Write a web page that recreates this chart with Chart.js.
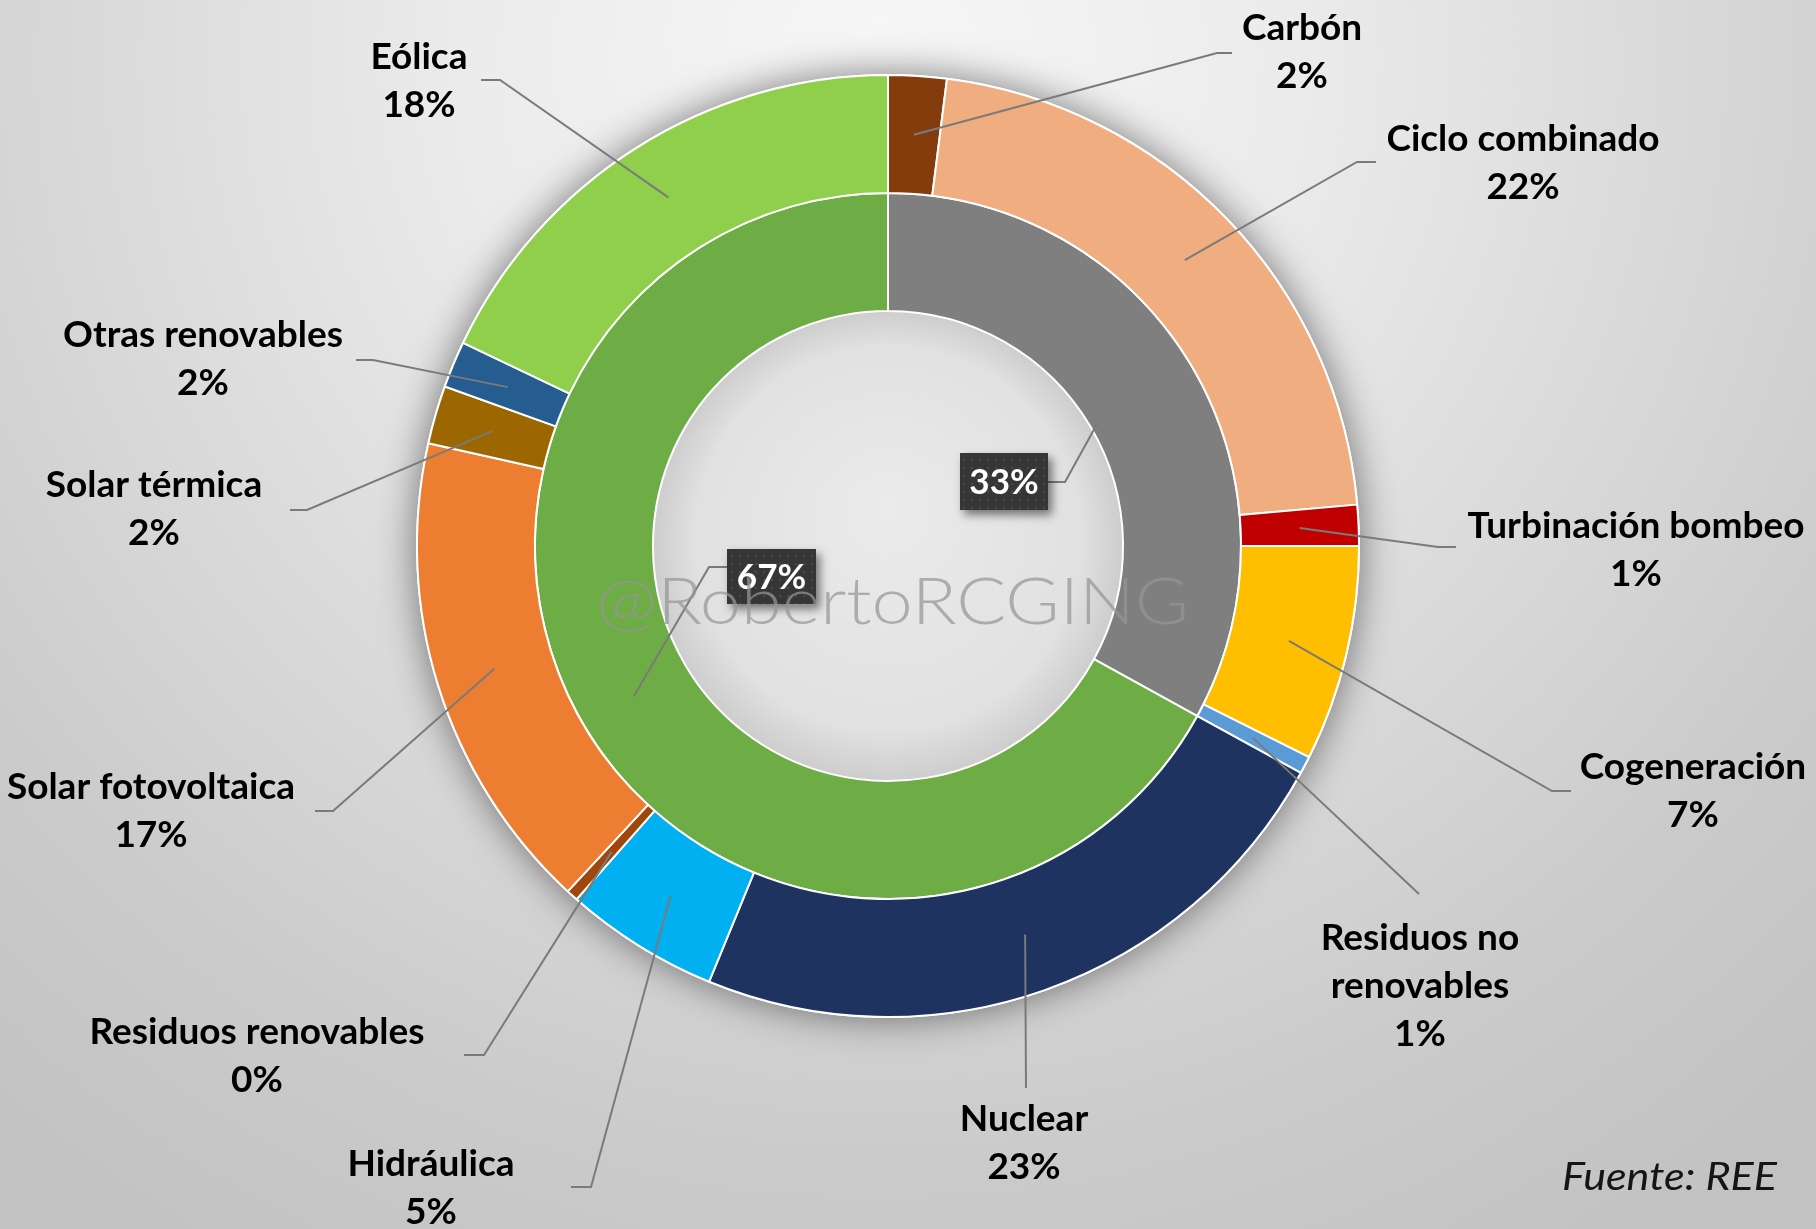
<!DOCTYPE html>
<html><head><meta charset="utf-8">
<script src="https://cdn.jsdelivr.net/npm/chart.js@4.4.1/dist/chart.umd.min.js"></script>
<style>
html,body{margin:0;padding:0;width:1816px;height:1229px;overflow:hidden;}
body{background: radial-gradient(circle at 880px 60px, #f7f7f7 0px, #ebebeb 420px, #d9d9d9 800px, #cbcbcb 1100px, #c2c2c2 1400px);}
canvas{display:block;}
</style></head><body>
<canvas id="c" width="1816" height="1229"></canvas>
<script>
// ---- data ----
const outerLabels = ['Carbón','Ciclo combinado','Turbinación bombeo','Cogeneración','Residuos no renovables','Nuclear','Hidráulica','Residuos renovables','Solar fotovoltaica','Solar térmica','Otras renovables','Eólica'];
const outerValues = [2.0, 21.6, 1.4, 7.4, 0.6, 23.2, 5.3, 0.4, 16.6, 2.0, 1.6, 17.9];
const outerColors = ['#843C0C','#F0AE80','#C00000','#FFBF00','#5B9BD5','#1F3361','#00B0F0','#A0470E','#ED7D31','#9C6700','#255D90','#8FCF4C'];
const innerLabels = ['No renovables','Libres de emisiones'];
const innerValues = [33, 67];
const innerColors = ['#7F7F7F','#6EAC45'];
const watermarkText = '@RobertoRCGING';
const sourceText = 'Fuente: REE';

// ---- annotation layout (label placement only) ----
const labelLayout = [
  {x:1302, y:28,  elbow:[1217,53],  end:[1232,53]},
  {x:1523, y:139, elbow:[1357,162], end:[1376,162]},
  {x:1636, y:526, elbow:[1438,547], end:[1456,547]},
  {x:1693, y:767, elbow:[1552,791], end:[1571,791]},
  {x:1420, y:938, elbow:[1419,894], end:[1419,894], breakAt:2},
  {x:1024, y:1119,elbow:[1026,1088],end:[1026,1088]},
  {x:431,  y:1164,elbow:[591,1187], end:[571,1187]},
  {x:257,  y:1032,elbow:[484,1055], end:[464,1055]},
  {x:151,  y:787, elbow:[333,811],  end:[315,811]},
  {x:154,  y:485, elbow:[307,510],  end:[290,510]},
  {x:203,  y:335, elbow:[373,360],  end:[356,360]},
  {x:419,  y:57,  elbow:[500,80],   end:[481,80]}
];
const innerLayout = [
  {box:[960,453,88,57], rf:0.08, elbow:[1065,482], end:[1048,482]},
  {box:[727,549,89,55], rf:0.51, elbow:[709,567], end:[727,567]}
];

const pct = v => Math.round(v) + '%';

const decor = {
  id: 'decor',
  beforeDatasetsDraw(chart) {
    const ctx = chart.ctx;
    const a0 = chart.getDatasetMeta(0).data[0].getProps(['x','y','outerRadius'], true);
    const a1 = chart.getDatasetMeta(1).data[0].getProps(['innerRadius'], true);
    ctx.save();
    ctx.shadowColor = 'rgba(0,0,0,0.5)';
    ctx.shadowBlur = 38;
    ctx.beginPath(); ctx.arc(a0.x, a0.y, a0.outerRadius + 1, 0, Math.PI * 2);
    ctx.fillStyle = '#ffffff'; ctx.fill();
    ctx.restore();
    // hole
    ctx.save();
    const g = ctx.createRadialGradient(a0.x, a0.y - 40, 0, a0.x, a0.y, a1.innerRadius);
    g.addColorStop(0, '#ebebeb');
    g.addColorStop(0.82, '#e1e1e1');
    g.addColorStop(1, '#cdcdcd');
    ctx.beginPath(); ctx.arc(a0.x, a0.y, a1.innerRadius, 0, Math.PI * 2);
    ctx.fillStyle = g; ctx.fill();
    ctx.restore();
  },
  afterDatasetsDraw(chart) {
    const ctx = chart.ctx;
    const mid = (el, rf) => {
      const p = el.getProps(['x','y','startAngle','endAngle','innerRadius','outerRadius'], true);
      const m = (p.startAngle + p.endAngle) / 2;
      const r = p.innerRadius + rf * (p.outerRadius - p.innerRadius);
      return [p.x + r * Math.cos(m), p.y + r * Math.sin(m)];
    };
    // outer leaders + labels
    const meta0 = chart.getDatasetMeta(0);
    ctx.save();
    ctx.strokeStyle = '#7a7a7a'; ctx.lineWidth = 2;
    meta0.data.forEach((el, i) => {
      const L = labelLayout[i];
      const s = mid(el, 0.5);
      ctx.beginPath(); ctx.moveTo(s[0], s[1]); ctx.lineTo(L.elbow[0], L.elbow[1]); ctx.lineTo(L.end[0], L.end[1]); ctx.stroke();
    });
    ctx.fillStyle = '#000'; ctx.font = 'bold 37px Lato'; ctx.textAlign = 'center'; ctx.textBaseline = 'middle';
    outerLabels.forEach((lab, i) => {
      const L = labelLayout[i];
      let lines;
      if (L.breakAt) { const w = lab.split(' '); lines = [w.slice(0, L.breakAt).join(' '), w.slice(L.breakAt).join(' ')]; }
      else lines = [lab];
      lines.push(pct(outerValues[i]));
      lines.forEach((t, k) => ctx.fillText(t, L.x, L.y + k * 48));
    });
    ctx.restore();
    // inner labels in dark boxes
    const pc = document.createElement('canvas'); pc.width = 8; pc.height = 8;
    const px = pc.getContext('2d'); px.fillStyle = '#363636'; px.fillRect(0,0,8,8); px.fillStyle = '#4a4a4a'; px.fillRect(3,3,2,2);
    const pattern = ctx.createPattern(pc, 'repeat');
    const meta1 = chart.getDatasetMeta(1);
    meta1.data.forEach((el, i) => {
      const L = innerLayout[i];
      const s = mid(el, L.rf);
      ctx.save();
      ctx.strokeStyle = '#7a7a7a'; ctx.lineWidth = 2;
      ctx.beginPath(); ctx.moveTo(s[0], s[1]); ctx.lineTo(L.elbow[0], L.elbow[1]); ctx.lineTo(L.end[0], L.end[1]); ctx.stroke();
      const [bx, by, bw, bh] = L.box;
      ctx.shadowColor = 'rgba(0,0,0,0.5)'; ctx.shadowBlur = 10; ctx.shadowOffsetX = 4; ctx.shadowOffsetY = 5;
      ctx.fillStyle = pattern; ctx.fillRect(bx, by, bw, bh);
      ctx.shadowColor = 'transparent';
      ctx.fillStyle = '#fff'; ctx.font = 'bold 35px Lato'; ctx.textAlign = 'center'; ctx.textBaseline = 'middle';
      ctx.fillText(pct(innerValues[i]), bx + bw / 2, by + bh / 2 + 1);
      ctx.restore();
    });
    // watermark
    ctx.save();
    ctx.font = '300 66px Lato';
    const ww = ctx.measureText(watermarkText).width;
    ctx.translate(596, 603);
    ctx.scale(593 / ww, 1);
    ctx.fillStyle = 'rgba(150,150,150,0.72)'; ctx.textBaseline = 'middle'; ctx.textAlign = 'left';
    ctx.fillText(watermarkText, 0, 0);
    ctx.restore();
    // source
    ctx.save();
    ctx.font = 'italic 38px Lato';
    const sw = ctx.measureText(sourceText).width;
    ctx.translate(1562, 1178);
    ctx.scale(215 / sw, 1);
    ctx.fillStyle = '#151515'; ctx.textBaseline = 'middle'; ctx.textAlign = 'left';
    ctx.fillText(sourceText, 0, 0);
    ctx.restore();
  }
};

new Chart(document.getElementById('c'), {
  type: 'doughnut',
  data: {
    labels: outerLabels,
    datasets: [
      {data: outerValues, backgroundColor: outerColors, borderColor: '#ffffff', borderWidth: 2, hoverBorderWidth: 2, weight: 118},
      {data: innerValues, labels: innerLabels, backgroundColor: innerColors, borderColor: '#ffffff', borderWidth: 2, hoverBorderWidth: 2, weight: 118}
    ]
  },
  options: {
    responsive: false,
    animation: false,
    events: [],
    cutout: '49.9%',
    layout: {padding: {left: 416, right: 456, top: 74, bottom: 211}},
    plugins: {legend: {display: false}, tooltip: {enabled: false}}
  },
  plugins: [decor]
});
</script>
</body></html>
